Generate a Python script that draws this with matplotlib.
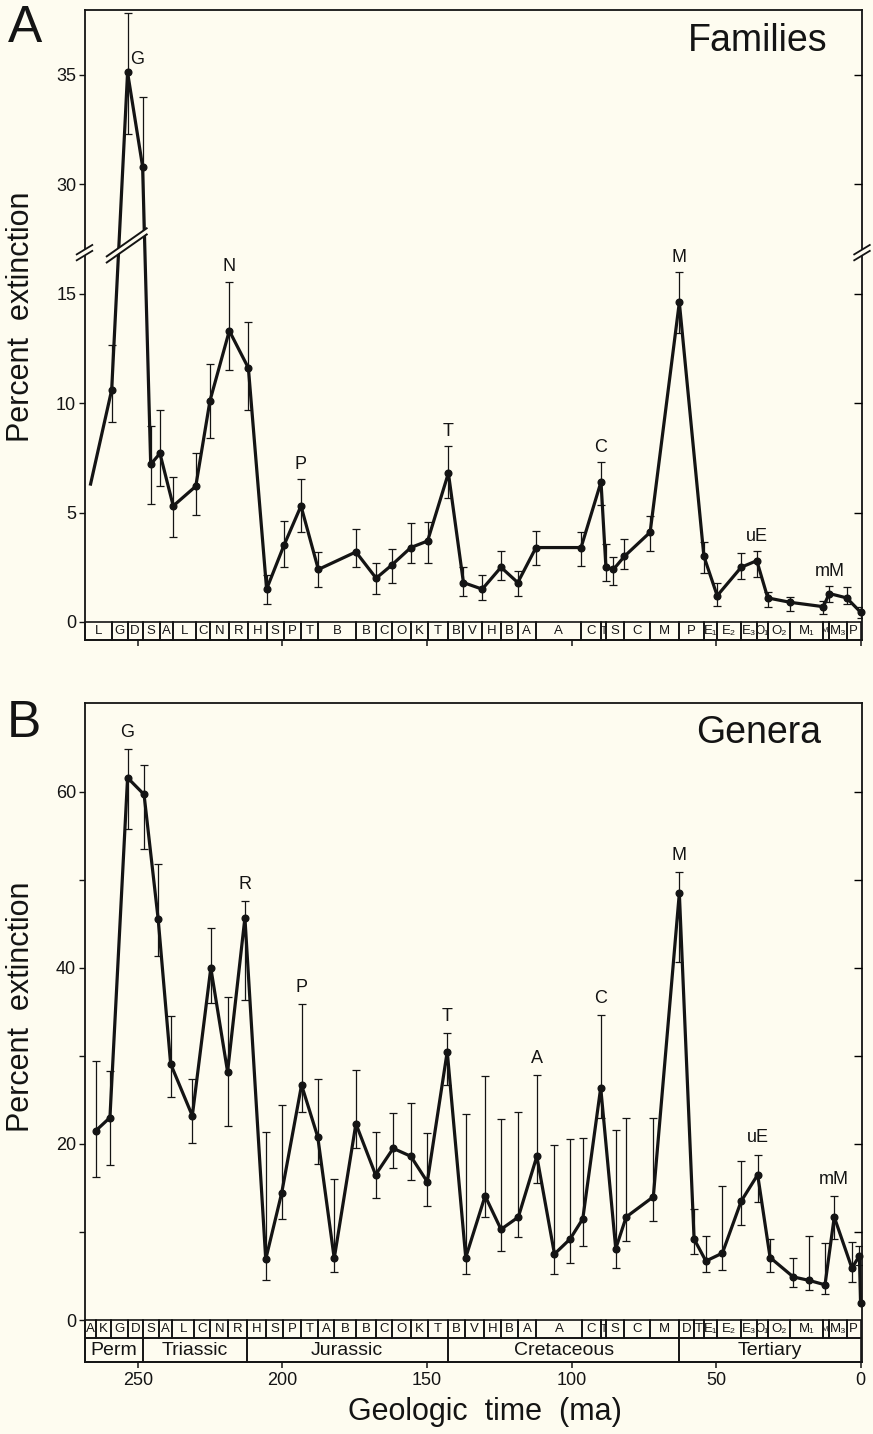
import matplotlib
matplotlib.use("Agg")
import matplotlib.pyplot as plt
import matplotlib.transforms as mtransforms
from matplotlib.patches import Rectangle, Polygon
import numpy as np

plt.rcParams['font.family'] = ['Liberation Sans', 'DejaVu Sans']

# ---------------- data: families (panel A) ----------------
fam_age = [266.4, 259.1, 253.6, 248.4, 245.6, 242.4, 237.8, 230.0, 225.1, 218.4, 211.8, 205.5,
           199.5, 193.6, 187.6, 174.6, 167.6, 162.2, 155.6, 149.8, 142.6, 137.4, 130.9, 124.4,
           118.6, 112.3, 96.7, 89.8, 88.1, 85.5, 81.7, 72.8, 62.7, 54.2, 49.6, 41.3, 35.9, 32.1,
           24.4, 12.9, 10.8, 4.8, 0.0]
fam_pct = [6.3, 10.6, 35.1, 30.8, 7.2, 7.7, 5.3, 6.2, 10.1, 13.3, 11.6, 1.5, 3.5, 5.3, 2.4, 3.2,
           2.0, 2.6, 3.4, 3.7, 6.8, 1.8, 1.5, 2.5, 1.8, 3.4, 3.4, 6.4, 2.5, 2.4, 3.0, 4.1, 14.6,
           3.0, 1.2, 2.5, 2.8, 1.1, 0.9, 0.7, 1.3, 1.1, 0.45]
fam_lo = [6.3, 9.15, 32.3, 27.7, 5.4, 6.2, 3.9, 4.9, 8.4, 11.5, 9.7, 0.8, 2.5, 4.1, 1.6, 2.5, 1.3,
          1.8, 2.7, 2.7, 5.65, 1.2, 1.0, 1.9, 1.2, 2.6, 2.55, 5.35, 1.85, 1.7, 2.4, 3.25, 13.2,
          2.25, 0.75, 1.95, 2.05, 0.7, 0.5, 0.35, 0.9, 0.8, 0.2]
fam_hi = [6.3, 12.65, 37.8, 34.0, 8.95, 9.7, 6.6, 7.7, 11.8, 15.55, 13.7, 2.15, 4.6, 6.55, 3.2,
          4.25, 2.7, 3.35, 4.5, 4.55, 8.05, 2.5, 2.15, 3.25, 2.35, 4.15, 4.1, 7.3, 3.55, 2.95,
          3.8, 4.85, 16.0, 3.65, 1.8, 3.15, 3.25, 1.35, 1.15, 0.95, 1.65, 1.6, 0.7]
fam_peaks = [("G", 2), ("N", 9), ("P", 13), ("T", 20), ("C", 27), ("M", 32), ("uE", 36), ("mM", 40)]

fam_stage_ends = [259.1, 253.6, 248.4, 242.4, 237.8, 230.0, 225.1, 218.4, 211.8, 205.5, 199.5,
                  193.6, 187.6, 174.6, 167.6, 162.2, 155.6, 149.8, 142.6, 137.4, 130.9, 124.4,
                  118.6, 112.3, 96.7, 89.8, 88.1, 81.7, 72.8, 62.7, 54.2, 49.6, 41.3, 35.9, 32.1,
                  24.4, 12.9, 10.8, 4.8, 0.0]
fam_stage_labels = ["L", "G", "D", "S", "A", "L", "C", "N", "R", "H", "S", "P", "T", "B", "B",
                    "C", "O", "K", "T", "B", "V", "H", "B", "A", "A", "C", "T", "S", "C", "M",
                    "P", "E₁", "E₂", "E₃", "O₁", "O₂", "M₁", "M₂", "M₃", "P"]

# ---------------- data: genera (panel B) ----------------
gen_age = [264.6, 259.7, 253.6, 247.9, 243.0, 238.7, 231.2, 224.8, 219.0, 213.0, 205.8, 200.3,
           193.4, 187.8, 182.1, 174.6, 167.8, 161.7, 155.6, 149.9, 143.0, 136.6, 129.9, 124.4,
           118.4, 112.0, 105.9, 100.5, 96.1, 89.9, 84.7, 81.1, 71.7, 62.7, 57.6, 53.5, 47.8,
           41.3, 35.6, 31.3, 23.3, 17.8, 12.3, 9.1, 3.0, 0.4, 0.0]
gen_pct = [21.5, 23.0, 61.6, 59.7, 45.5, 29.1, 23.2, 40.0, 28.2, 45.7, 6.9, 14.4, 26.7, 20.8, 7.0,
           22.3, 16.5, 19.5, 18.6, 15.7, 30.5, 7.1, 14.1, 10.3, 11.7, 18.6, 7.5, 9.2, 11.5, 26.4,
           8.1, 11.7, 14.0, 48.5, 9.2, 6.7, 7.6, 13.5, 16.5, 7.1, 4.9, 4.5, 4.0, 11.7, 5.9, 7.3, 1.9]
gen_lo = [16.2, 17.6, 55.8, 53.5, 41.4, 25.3, 20.1, 36.0, 22.0, 36.4, 4.6, 11.5, 23.6, 17.7, 5.4,
          19.5, 13.9, 17.3, 15.9, 13.0, 26.7, 5.2, 11.7, 7.8, 9.4, 15.6, 5.2, 6.5, 8.4, 23.0, 5.9,
          9.0, 11.3, 40.7, 7.5, 5.4, 5.7, 10.8, 13.4, 5.5, 3.8, 3.4, 2.9, 9.2, 4.3, 6.3, 1.9]
gen_hi = [29.4, 28.3, 64.9, 63.0, 51.8, 34.5, 27.4, 44.5, 36.7, 47.6, 21.4, 24.4, 35.9, 27.4, 16.0,
          28.4, 21.4, 23.5, 24.7, 21.3, 32.6, 23.4, 27.7, 22.8, 23.6, 27.8, 19.9, 20.6, 20.7, 34.6,
          21.6, 22.9, 22.9, 50.9, 12.6, 9.5, 15.2, 18.1, 18.8, 9.2, 7.0, 9.5, 8.7, 14.1, 8.9, 8.4, 1.9]
gen_peaks = [("G", 2), ("R", 9), ("P", 12), ("T", 20), ("A", 25), ("C", 29), ("M", 33), ("uE", 38), ("mM", 43)]

gen_stage_ends = [264.6, 259.4, 253.6, 248.2, 242.7, 238.2, 230.6, 225.0, 218.7, 212.4, 205.6,
                  199.9, 193.5, 187.7, 182.1, 174.6, 167.7, 162.0, 155.6, 149.8, 142.8, 137.0,
                  130.4, 124.4, 118.5, 112.2, 96.4, 89.8, 88.1, 81.7, 72.8, 62.7, 57.6, 54.2,
                  49.6, 41.3, 35.9, 32.1, 24.4, 12.9, 10.8, 4.8, 0.0]
gen_stage_labels = ["A", "K", "G", "D", "S", "A", "L", "C", "N", "R", "H", "S", "P", "T", "A", "B",
                    "B", "C", "O", "K", "T", "B", "V", "H", "B", "A", "A", "C", "T", "S", "C", "M",
                    "D", "T", "E₁", "E₂", "E₃", "O₁", "O₂", "M₁", "M₂", "M₃", "P"]
period_ends = [248.2, 212.4, 142.8, 62.7, 0.0]
period_labels = ["Perm", "Triassic", "Jurassic", "Cretaceous", "Tertiary"]

xticks = [250, 200, 150, 100, 50, 0]

# ---------------- styling ----------------
BG = '#fefcf0'
INK = '#141414'
XLIM = (268.5, -0.5)
AX_W_PX = 777.5
PX_PER_MA = AX_W_PX / (XLIM[0] - XLIM[1])

fig = plt.figure(figsize=(8.73, 14.34), dpi=100, facecolor=BG)
axA = fig.add_axes([0.0968, 0.5537, 0.8906, 0.4393], facecolor=BG)
axB = fig.add_axes([0.0968, 0.0502, 0.8906, 0.4596], facecolor=BG)


def brk(v):
    v = np.asarray(v, dtype=float)
    return np.where(v >= 20, v - 10, v)


def style_axis(ax, ylim, right_ticks):
    ax.set_xlim(*XLIM)
    ax.set_ylim(*ylim)
    for s in ax.spines.values():
        s.set_linewidth(1.3)
        s.set_color(INK)
    ax.set_xticks(xticks)
    ax.tick_params(axis='x', direction='out', length=4, width=1.1, pad=3, labelsize=13, colors=INK)
    ax.tick_params(axis='y', which='both', direction='out', length=4, width=1.0, pad=2,
                   labelsize=13, colors=INK)
    tw = ax.twinx()
    tw.set_ylim(*ylim)
    tw.set_yticks(right_ticks)
    tw.tick_params(axis='y', direction='in', length=6, width=1.0, labelright=False)
    for s in tw.spines.values():
        s.set_visible(False)
    return tw


def draw_boxes(ax, ends, labels, y0, y1, left, fs):
    starts = [left] + list(ends[:-1])
    for s, e, lab in zip(starts, ends, labels):
        ax.add_patch(Rectangle((e, y0), s - e, y1 - y0, fill=False, ec=INK, lw=1.2,
                               clip_on=False, zorder=5))
        width_px = (s - e) * PX_PER_MA
        n = len(lab.replace('₁', '').replace('₂', '').replace('₃', '')) + 0.6 * (len(lab) > 1 and lab[-1] in '₁₂₃')
        est = fs * 1.389 * 0.68 * n
        f = fs if est <= width_px + 2 else max(5.5, fs * (width_px + 2) / est)
        ax.text((s + e) / 2, (y0 + y1) / 2, lab, ha='center', va='center', fontsize=f,
                color=INK, zorder=6)


def plot_series(ax, age, val, lo, hi, first_marker):
    age = np.asarray(age)
    ax.plot(age, val, color=INK, lw=2.3, zorder=3, solid_joinstyle='round')
    ax.plot(age[first_marker:], np.asarray(val)[first_marker:], 'o', ms=4.8, color=INK, zorder=4,
            clip_on=False)
    val = np.asarray(val); lo = np.asarray(lo); hi = np.asarray(hi)
    m = hi > lo
    ax.errorbar(age[m], val[m], yerr=[val[m] - lo[m], hi[m] - val[m]], fmt='none', ecolor=INK,
                elinewidth=0.9, capsize=3.2, capthick=0.9, zorder=2)


# ---------------- Panel A ----------------
ylimA = (-0.822, 27.95)
style_axis(axA, ylimA, [5, 10, 15, 20, 25])
axA.set_yticks([0, 5, 10, 15, 20, 25])
axA.set_yticklabels(['0', '5', '10', '15', '30', '35'])
axA.tick_params(axis='x', labelbottom=False)

fa = np.asarray(fam_age)
fd = brk(fam_pct)
plot_series(axA, fa, fd, brk(fam_lo), brk(fam_hi), 1)

for lab, i in fam_peaks:
    if lab == "G":
        axA.annotate(lab, (fa[i], fd[i]), xytext=(7, 9), textcoords='offset points',
                     ha='center', va='center', fontsize=13, color=INK)
    else:
        axA.annotate(lab, (fa[i], brk(fam_hi[i])), xytext=(0, 10.5), textcoords='offset points',
                     ha='center', va='center', fontsize=13, color=INK)

draw_boxes(axA, fam_stage_ends, fam_stage_labels, ylimA[0], 0.0, XLIM[0], 9.5)

# axis-break marks across the data lines
axA.add_patch(Polygon([(260.8, 16.45), (247.0, 17.72), (247.0, 17.98), (260.8, 16.71)],
                      closed=True, fc=BG, ec='none', zorder=6))
for dy in (0.0, 0.28):
    axA.plot([260.8, 247.0], [16.42 + dy, 17.70 + dy], color=INK, lw=1.4, zorder=7)
# axis-break marks on the spines
blend = mtransforms.blended_transform_factory(axA.transAxes, axA.transData)
for xc in (0.0, 1.0):
    axA.add_patch(Polygon([(xc - 0.01, 16.55), (xc + 0.01, 16.95), (xc + 0.01, 17.2),
                           (xc - 0.01, 16.8)], closed=True, fc=BG, ec='none', zorder=8,
                          transform=blend, clip_on=False))
    for dy in (0.0, 0.27):
        axA.plot([xc - 0.01, xc + 0.01], [16.52 + dy, 16.95 + dy], color=INK, lw=1.3,
                 transform=blend, clip_on=False, zorder=9)

axA.text(0.956, 0.951, "Families", transform=axA.transAxes, ha='right', va='center',
         fontsize=27, color=INK)

# ---------------- Panel B ----------------
ylimB = (-4.77, 70.1)
style_axis(axB, ylimB, [10, 20, 30, 40, 50, 60])
axB.set_yticks([0, 20, 40, 60])
axB.set_yticks([10, 30, 50], minor=True)
axB.tick_params(axis='y', which='minor', length=4, width=1.0)

ga = np.asarray(gen_age)
plot_series(axB, ga, gen_pct, gen_lo, gen_hi, 0)
for lab, i in gen_peaks:
    axB.annotate(lab, (ga[i], gen_hi[i]), xytext=(0, 12), textcoords='offset points',
                 ha='center', va='center', fontsize=13, color=INK)

draw_boxes(axB, gen_stage_ends, gen_stage_labels, -2.05, 0.0, XLIM[0], 9.5)
draw_boxes(axB, period_ends, period_labels, ylimB[0], -2.05, XLIM[0], 14)

axB.text(0.948, 0.954, "Genera", transform=axB.transAxes, ha='right', va='center',
         fontsize=27, color=INK)

# ---------------- figure texts ----------------
fig.text(0.009, 0.980, "A", fontsize=37, ha='left', va='center', color=INK)
fig.text(0.008, 0.4958, "B", fontsize=37, ha='left', va='center', color=INK)
fig.text(0.024, 0.7793, "Percent  extinction", rotation=90, fontsize=22, ha='center',
         va='center', color=INK)
fig.text(0.024, 0.2978, "Percent  extinction", rotation=90, fontsize=22, ha='center',
         va='center', color=INK)
fig.text(0.5556, 0.0153, "Geologic  time  (ma)", fontsize=22, ha='center', va='center',
         color=INK)

fig.savefig("out.png", dpi=100, facecolor=BG)
